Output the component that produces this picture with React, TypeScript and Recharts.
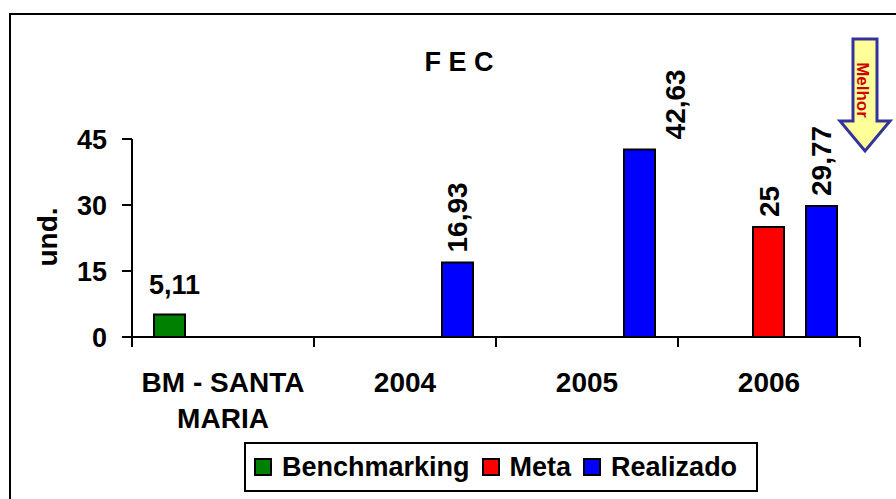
import React from "react";
import {Bar, BarChart, LabelList, XAxis, YAxis} from "recharts";

const categories = ["BM - SANTA MARIA", "2004", "2005", "2006"];
const benchmarking = [5.11, null, null, null];
const meta = [null, null, null, 25];
const realizado = [null, 16.93, 42.63, 29.77];
const yTicks = [0, 15, 30, 45];

const series = [
    {key: "benchmarking", name: "Benchmarking", color: "#008000"},
    {key: "meta", name: "Meta", color: "#FF0000"},
    {key: "realizado", name: "Realizado", color: "#0000FF"},
];

const data = categories.map((c, i) => ({
    category: c,
    benchmarking: benchmarking[i],
    meta: meta[i],
    realizado: realizado[i],
}));

const FONT = "'Liberation Sans', Arial, sans-serif";
const W = 896;
const H = 499;
const PLOT_LEFT = 132;
const PLOT_RIGHT = 860;
const PLOT_TOP = 139;
const PLOT_BOTTOM = 337;
const BAND = (PLOT_RIGHT - PLOT_LEFT) / categories.length;

const fmt = (v: number) => String(v).replace(".", ",");

const CategoryTick = ({x, payload}) => {
    const lines = payload.value === "BM - SANTA MARIA" ? ["BM - SANTA", "MARIA"] : [payload.value];
    const isLast = payload.index === categories.length - 1;
    return (
        <g>
            <line x1={x - BAND / 2} x2={x - BAND / 2} y1={PLOT_BOTTOM} y2={PLOT_BOTTOM + 10} stroke="#000" strokeWidth={2}/>
            {isLast && <line x1={x + BAND / 2} x2={x + BAND / 2} y1={PLOT_BOTTOM} y2={PLOT_BOTTOM + 10} stroke="#000" strokeWidth={2}/>}
            {lines.map((l, i) => (
                <text key={i} x={x} y={PLOT_BOTTOM + 55 + i * 36} textAnchor="middle"
                      fontFamily={FONT} fontWeight="bold" fontSize={28} fill="#000">
                    {l}
                </text>
            ))}
        </g>
    );
};

const HorizontalLabel = (props) => {
    const {x, y, width, value} = props;
    if (value == null) return null;
    return (
        <text x={x + width / 2 + 5} y={y - 21} textAnchor="middle"
              fontFamily={FONT} fontWeight="bold" fontSize={27} fill="#000">
            {fmt(value)}
        </text>
    );
};

const VerticalLabel = (props) => {
    const {x, y, width, value} = props;
    if (value == null) return null;
    const text = fmt(value);
    // a label that would run into the title is moved to the right of its bar
    const shift = y - 10 - text.length * 15 < 80 ? 36 : 0;
    const tx = x + width / 2 + 10 + shift;
    const ty = y - 10;
    return (
        <text x={tx} y={ty} transform={`rotate(-90, ${tx}, ${ty})`} textAnchor="start"
              fontFamily={FONT} fontWeight="bold" fontSize={28} fill="#000">
            {text}
        </text>
    );
};

const LegendBox = () => (
    <div style={{
        position: "absolute", left: 244, top: 442, width: 502, height: 46,
        border: "2px solid #000", display: "flex", alignItems: "center",
        paddingLeft: 8, boxSizing: "content-box", background: "#fff",
        fontFamily: FONT, fontWeight: "bold", fontSize: 27, color: "#000",
    }}>
        {series.map((s) => (
            <div key={s.key} style={{display: "flex", alignItems: "center", marginRight: 12}}>
                <span style={{
                    width: 14, height: 14, background: s.color, border: "2px solid #000",
                    display: "inline-block", marginRight: 10,
                }}/>
                <span>{s.name}</span>
            </div>
        ))}
    </div>
);

const Overlay = () => (
    <svg width={W} height={H} style={{position: "absolute", left: 0, top: 0, pointerEvents: "none"}}>
        <text x={459} y={71} textAnchor="middle" fontFamily={FONT} fontWeight="bold" fontSize={27} fill="#000">
            F E C
        </text>
        <text x={57} y={237} transform="rotate(-90, 57, 237)" textAnchor="middle"
              fontFamily={FONT} fontWeight="bold" fontSize={28} fill="#000">
            und.
        </text>
        <polygon points="853,39 877,39 877,121 890,121 865,151 840,121 853,121"
                 fill="#FFFF99" stroke="#333399" strokeWidth={3} strokeLinejoin="miter"/>
        <text x={857} y={90} transform="rotate(90, 857, 90)" textAnchor="middle"
              fontFamily={FONT} fontWeight="bold" fontSize={17} fill="#CC0000">
            Melhor
        </text>
    </svg>
);

export default function App() {
    return (
        <div style={{position: "absolute", left: 0, top: 0, width: W, height: H, overflow: "hidden", background: "#fff"}}>
            <div style={{position: "absolute", left: 9, top: 13, width: 900, height: 500, border: "2px solid #000"}}/>
            <BarChart width={W} height={H} data={data}
                      margin={{top: PLOT_TOP, right: W - PLOT_RIGHT, bottom: 62, left: 52}}
                      barCategoryGap={22} barGap={22}>
                <XAxis dataKey="category" height={H - PLOT_BOTTOM - 62} interval={0}
                       axisLine={{stroke: "#000", strokeWidth: 2}} tickLine={false}
                       tick={(props) => <CategoryTick {...props}/>}/>
                <YAxis width={80} domain={[0, 45]} ticks={yTicks} tickSize={10} tickMargin={15}
                       axisLine={{stroke: "#000", strokeWidth: 2}} tickLine={{stroke: "#000", strokeWidth: 2}}
                       tick={{fontFamily: FONT, fontWeight: "bold", fontSize: 27, fill: "#000"}}/>
                <Bar dataKey="benchmarking" name="Benchmarking" fill="#008000" stroke="#000" strokeWidth={2}
                     isAnimationActive={false}>
                    <LabelList dataKey="benchmarking" content={HorizontalLabel}/>
                </Bar>
                <Bar dataKey="meta" name="Meta" fill="#FF0000" stroke="#000" strokeWidth={2}
                     isAnimationActive={false}>
                    <LabelList dataKey="meta" content={VerticalLabel}/>
                </Bar>
                <Bar dataKey="realizado" name="Realizado" fill="#0000FF" stroke="#000" strokeWidth={2}
                     isAnimationActive={false}>
                    <LabelList dataKey="realizado" content={VerticalLabel}/>
                </Bar>
            </BarChart>
            <Overlay/>
            <LegendBox/>
        </div>
    );
}
